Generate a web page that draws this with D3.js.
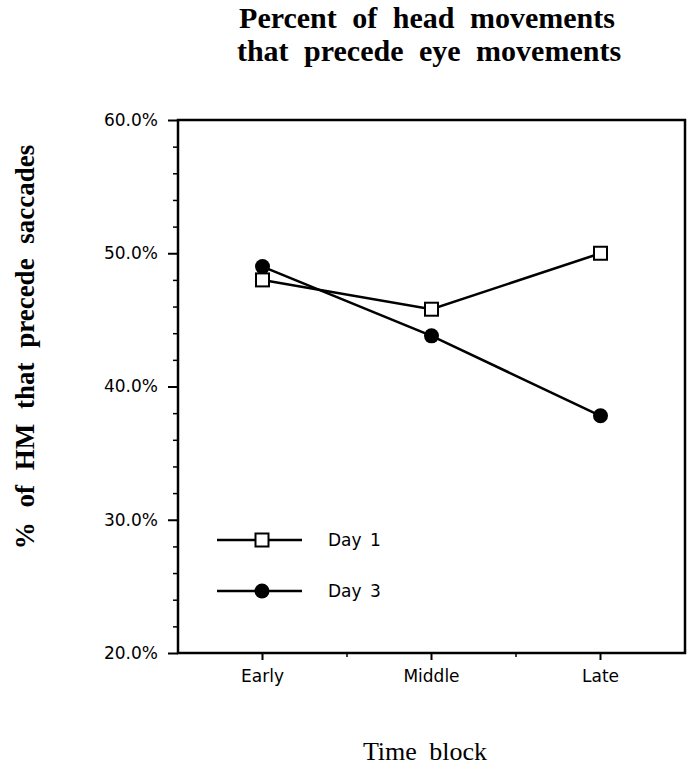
<!DOCTYPE html>
<html>
<head>
<meta charset="utf-8">
<script src="https://cdn.jsdelivr.net/npm/d3@7"></script>
<style>
  body { margin: 0; background: #fff; }
  svg text { fill: #000; }
</style>
</head>
<body>
<svg id="chart" width="689" height="767"></svg>
<script>
// values (percent)
var blocks = ["Early", "Middle", "Late"];
var day1 = [48.0, 45.8, 50.0];
var day3 = [49.0, 43.8, 37.8];
var yTicks = [20, 30, 40, 50, 60];
var yMinorTicks = [22, 24, 26, 28, 32, 34, 36, 38, 42, 44, 46, 48, 52, 54, 56, 58];
var seriesNames = ["Day 1", "Day 3"];

var svg = d3.select("#chart"),
    plotLeft = 178, plotRight = 685, plotTop = 120, plotBottom = 653;

var x = d3.scaleBand()
    .domain(blocks)
    .range([plotLeft, plotRight]);

var y = d3.scaleLinear()
    .domain([20, 60])
    .range([plotBottom, plotTop]);

function cx(d) { return x(d) + x.bandwidth() / 2; }

var sans = "'DejaVu Sans', Verdana, sans-serif";
var serif = "'Liberation Serif', 'Times New Roman', serif";

// frame
svg.append("rect")
    .attr("x", plotLeft).attr("y", plotTop)
    .attr("width", plotRight - plotLeft).attr("height", plotBottom - plotTop)
    .attr("fill", "none").attr("stroke", "#000").attr("stroke-width", 2.5);

// y axis
var yAxis = svg.append("g")
    .attr("transform", "translate(" + plotLeft + ",0)")
    .call(d3.axisLeft(y).tickValues(yTicks).tickSize(10).tickPadding(10)
        .tickFormat(function (d) { return d.toFixed(1) + "%"; }));
yAxis.select(".domain").remove();
yAxis.selectAll("line").attr("stroke-width", 2);
yAxis.selectAll("text")
    .attr("font-family", sans).attr("font-size", 17);

svg.append("g")
    .attr("transform", "translate(" + plotLeft + ",0)")
    .call(d3.axisLeft(y).tickValues(yMinorTicks).tickSize(5).tickFormat(""))
    .call(function (g) { g.select(".domain").remove(); })
    .selectAll("line").attr("stroke-width", 1.5);

// x axis
var xAxis = svg.append("g")
    .attr("transform", "translate(0," + plotBottom + ")")
    .call(d3.axisBottom(x).tickSize(7).tickPadding(10));
xAxis.select(".domain").remove();
xAxis.selectAll("line").attr("stroke-width", 2);
xAxis.selectAll("text")
    .attr("font-family", sans).attr("font-size", 17);

// minor ticks on the band edges
svg.append("g")
    .selectAll("line")
    .data(blocks.slice(1))
    .join("line")
    .attr("x1", function (d) { return x(d); })
    .attr("x2", function (d) { return x(d); })
    .attr("y1", plotBottom).attr("y2", plotBottom + 4)
    .attr("stroke", "#000").attr("stroke-width", 1.5);

var line = d3.line()
    .x(function (d, i) { return cx(blocks[i]); })
    .y(function (d) { return y(d); });

// lines
[day1, day3].forEach(function (s) {
    svg.append("path")
        .datum(s)
        .attr("fill", "none")
        .attr("stroke", "#000")
        .attr("stroke-width", 2.5)
        .attr("d", line);
});

function drawSquare(g, px, py) {
    g.append("rect")
        .attr("x", px - 6.5).attr("y", py - 6.5)
        .attr("width", 13).attr("height", 13)
        .attr("fill", "#fff").attr("stroke", "#000").attr("stroke-width", 2);
}

function drawDot(g, px, py) {
    g.append("circle")
        .attr("cx", px).attr("cy", py).attr("r", 7.5)
        .attr("fill", "#000");
}

// markers
var marks = svg.append("g");
day3.forEach(function (v, i) { drawDot(marks, cx(blocks[i]), y(v)); });
day1.forEach(function (v, i) { drawSquare(marks, cx(blocks[i]), y(v)); });

// legend
var legend = svg.append("g");
var legendRows = [540, 591];
seriesNames.forEach(function (name, i) {
    var ly = legendRows[i];
    legend.append("line")
        .attr("x1", 217).attr("x2", 302)
        .attr("y1", ly).attr("y2", ly)
        .attr("stroke", "#000").attr("stroke-width", 2.5);
    if (i == 0) drawSquare(legend, 262, ly);
    else drawDot(legend, 262, ly);
    legend.append("text")
        .attr("x", 328).attr("y", ly)
        .attr("dy", "0.36em")
        .attr("font-family", sans).attr("font-size", 17)
        .attr("word-spacing", 3)
        .text(name);
});

// title
var title = svg.append("text")
    .attr("text-anchor", "middle")
    .attr("font-family", serif)
    .attr("font-weight", "bold")
    .attr("font-size", 30)
    .attr("word-spacing", 8);
title.append("tspan").attr("x", 427).attr("y", 28).text("Percent of head movements");
title.append("tspan").attr("x", 429).attr("y", 61).text("that precede eye movements");

// axis titles
svg.append("text")
    .attr("transform", "translate(34,347) rotate(-90)")
    .attr("text-anchor", "middle")
    .attr("font-family", serif)
    .attr("font-weight", "bold")
    .attr("font-size", 27)
    .attr("word-spacing", 8)
    .text("% of HM that precede saccades");

svg.append("text")
    .attr("x", 425).attr("y", 760)
    .attr("text-anchor", "middle")
    .attr("font-family", serif)
    .attr("font-size", 26)
    .attr("word-spacing", 6)
    .text("Time block");
</script>
</body>
</html>
